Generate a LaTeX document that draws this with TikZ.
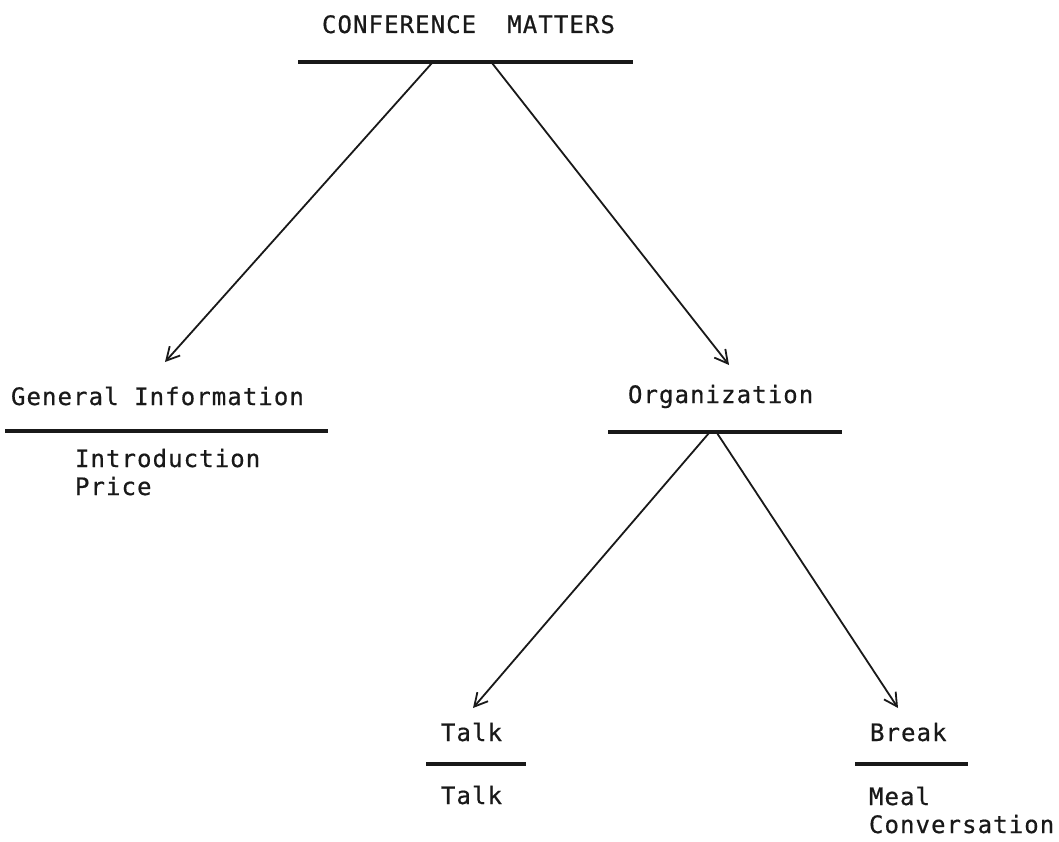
\documentclass[tikz,border=0pt]{standalone}
\usepackage{fontspec}
\usetikzlibrary{arrows.meta}
\newfontfamily\dotfont[LetterSpace=4.5,FakeBold=0.6]{DejaVu Sans Mono}
\begin{document}
\begin{tikzpicture}[x=1pt,y=-1pt,
  label/.style={anchor=base west,inner sep=0pt,outer sep=0pt,
    font=\dotfont\fontsize{24}{28}\selectfont,text=black!90},
  bar/.style={line width=3.2pt,black!90},
  link/.style={line width=1.8pt,black!90,
    -{Straight Barb[length=13pt,width=14pt,line width=1.8pt]}}]
\useasboundingbox[fill=white] (0,0) rectangle (1059,842);

% class headings
\node[label] (root) at (322,33) {CONFERENCE\ \ MATTERS};
\node[label] (gen)  at (11,405) {General Information};
\node[label] (org)  at (628,403) {Organization};
\node[label] (talk) at (441,741) {Talk};
\node[label] (brk)  at (870,741) {Break};

% members listed under each bar
\node[label] (intro) at (75,467) {Introduction};
\node[label] (price) at (75,495) {Price};
\node[label] (talkm) at (441,804) {Talk};
\node[label] (meal)  at (869,805) {Meal};
\node[label] (conv)  at (869,833) {Conversation};

% bar end points
\coordinate (rootL) at (298,62);  \coordinate (rootR) at (633,62);
\coordinate (genL)  at (5,431);   \coordinate (genR)  at (328,431);
\coordinate (orgL)  at (608,432); \coordinate (orgR)  at (842,432);
\coordinate (talkL) at (426,764); \coordinate (talkR) at (526,764);
\coordinate (brkL)  at (855,764); \coordinate (brkR)  at (968,764);

\draw[bar] (rootL) -- (rootR);
\draw[bar] (genL) -- (genR);
\draw[bar] (orgL) -- (orgR);
\draw[bar] (talkL) -- (talkR);
\draw[bar] (brkL) -- (brkR);

% connector ends
\coordinate (rootA) at (432,63);  \coordinate (rootB) at (492,63);
\coordinate (genT)  at (165,362); \coordinate (orgT)  at (729,365);
\coordinate (orgA)  at (709,433); \coordinate (orgB)  at (717,433);
\coordinate (talkT) at (473,708); \coordinate (brkT)  at (898,708);

\draw[link] (rootA) -- (genT);
\draw[link] (rootB) -- (orgT);
\draw[link] (orgA) -- (talkT);
\draw[link] (orgB) -- (brkT);
\end{tikzpicture}
\end{document}
